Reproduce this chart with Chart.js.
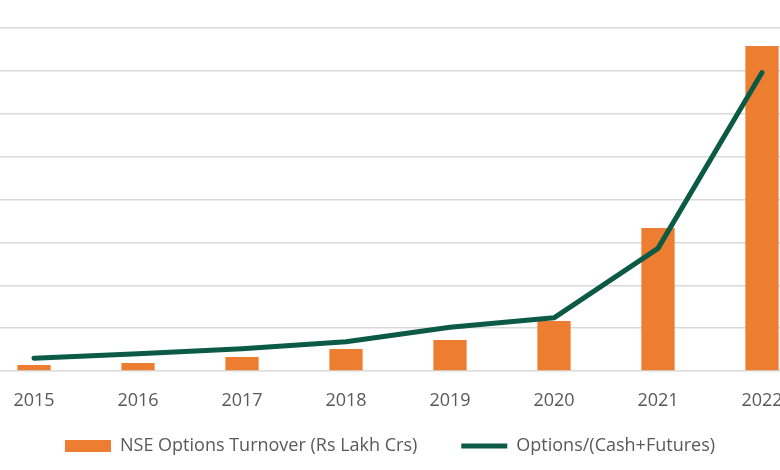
<!DOCTYPE html>
<html>
<head>
<meta charset="utf-8">
<script src="https://cdn.jsdelivr.net/npm/chart.js@4"></script>
<style>
  html, body { margin: 0; padding: 0; background: #fff; overflow: hidden; }
  #wrap { position: absolute; left: -34px; top: 0; width: 848px; height: 470px; }
</style>
</head>
<body>
<div id="wrap"><canvas id="optChart"></canvas></div>
<script>
// ==========================
// DATA
// ==========================
const years = ['2015', '2016', '2017', '2018', '2019', '2020', '2021', '2022'];

// NSE options turnover (Rs lakh crore)
const optionsTurnover = [28, 37, 65, 103, 145, 233, 667, 1516];

// Options / (Cash + Futures)
const optionsRatio = [1.5, 2.0, 2.6, 3.4, 5.1, 6.2, 14.3, 34.8];

const turnoverTicks = [0, 1600, 200];
const ratioTicks = [0, 40, 5];

const orange = '#ED7D31';
const green = '#0B5A45';
const textGrey = '#595959';


// ==========================
// LEGEND: keep wide item gap, but take less height
// ==========================
const LEGEND_TRIM = 18;

const legendTrim = {

    id: 'legendTrim',

    afterInit(chart) {

        const lg = chart.legend;
        const fit = lg.fit;
        const draw = lg.draw;

        lg.fit = function () { fit.call(this); this.height -= LEGEND_TRIM; };

        lg.draw = function () { this.top -= LEGEND_TRIM; draw.call(this); this.top += LEGEND_TRIM; };

    }

};


// ==========================
// CHART
// ==========================
const ctx = document.getElementById('optChart').getContext('2d');

const optChart = new Chart(ctx, {

    type: 'bar',

    data: {

        labels: years,

        datasets: [{

            type: 'line',

            label: 'Options/(Cash+Futures)',

            data: optionsRatio,

            yAxisID: 'y1',

            borderColor: green,

            borderWidth: 5,

            borderCapStyle: 'round',

            borderJoinStyle: 'round',

            tension: 0,

            pointRadius: 0,

            pointStyle: 'line',

            pointBorderColor: green,

            pointBorderWidth: 5,

            order: 0

        }, {

            label: 'NSE Options Turnover (Rs Lakh Crs)',

            data: optionsTurnover,

            yAxisID: 'y',

            backgroundColor: orange,

            pointStyle: 'rect',

            categoryPercentage: 1,

            barPercentage: 0.32,

            order: 1

        }]

    },

    plugins: [legendTrim],

    options: {

        responsive: true,

        maintainAspectRatio: false,

        animation: false,

        layout: {

            padding: { top: 28, bottom: 5, left: 0, right: 0 }

        },

        plugins: {

            tooltip: { enabled: false },

            legend: {

                position: 'bottom',

                reverse: true,

                labels: {

                    usePointStyle: true,

                    pointStyleWidth: 46,

                    boxWidth: 46,

                    boxHeight: 12,

                    padding: 44,

                    color: textGrey,

                    font: { family: 'Open Sans', size: 18 }

                }

            }

        },

        scales: {

            x: {

                grid: { display: false },

                border: { display: false },

                ticks: {

                    color: textGrey,

                    padding: 11,

                    font: { family: 'Open Sans', size: 18 }

                },

                afterFit: function (s) { s.height = 40; }

            },

            y: {

                min: turnoverTicks[0],

                max: turnoverTicks[1],

                ticks: { display: false, stepSize: turnoverTicks[2] },

                grid: { color: '#D9D9D9', lineWidth: 1.5, drawTicks: false },

                border: { display: false },

                afterFit: function (s) { s.width = 16; }

            },

            y1: {

                display: false,

                min: ratioTicks[0],

                max: ratioTicks[1],

                ticks: { stepSize: ratioTicks[2] }

            }

        }

    }

});
</script>
</body>
</html>
